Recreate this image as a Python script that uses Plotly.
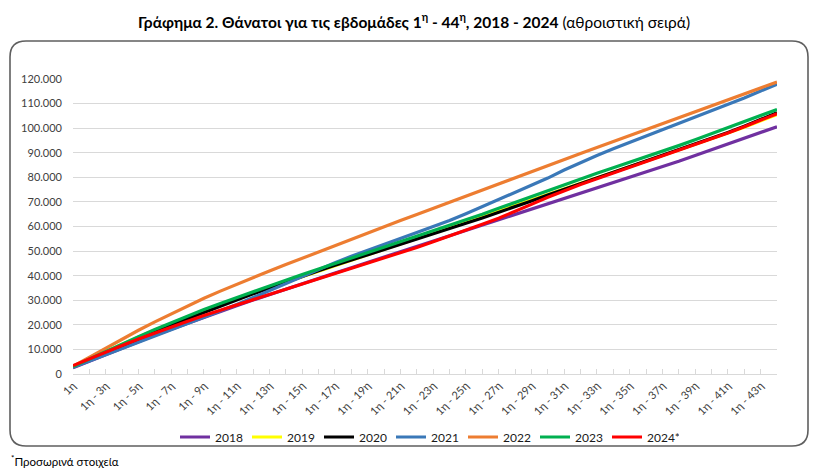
import plotly.graph_objects as go

# ---- data (cumulative deaths, weeks 1..44) ----
weeks = ["1η"] + [f"1η - {k}η" for k in range(2, 45)]

deaths_2018 = [2550, 5250, 7950, 10600, 13200, 15750, 18250, 20700, 23100, 25450,
               27800, 30100, 32350, 34600, 36800, 38950, 41100, 43250, 45400, 47550,
               49700, 51850, 54000, 56150, 58300, 60450, 62600, 64750, 66900, 69050,
               71200, 73350, 75500, 77650, 79800, 81950, 84200, 86550, 88900, 91250,
               93600, 95950, 98300, 100600]
deaths_2019 = [3000, 6100, 9200, 12200, 15100, 17900, 20600, 23200, 25700, 28100,
               30500, 32800, 35100, 37400, 39600, 41800, 44000, 46200, 48400, 50600,
               52800, 55000, 57200, 59400, 61600, 63900, 66200, 68500, 70800, 73000,
               75300, 77550, 79800, 82050, 84300, 86550, 88800, 91050, 93300, 95600,
               98000, 100400, 102900, 105500]
deaths_2020 = [2900, 5800, 8700, 11600, 14400, 17200, 19900, 22500, 25000, 27600,
               30100, 32600, 35000, 37400, 39800, 42000, 44200, 46300, 48400, 50500,
               52600, 54700, 56900, 59100, 61300, 63500, 65700, 68000, 70400, 72800,
               75100, 77400, 79700, 82000, 84300, 86600, 88900, 91200, 93500, 95800,
               98200, 100800, 103500, 106300]
deaths_2021 = [2700, 5300, 7900, 10500, 13000, 15500, 18000, 20500, 23000, 25600,
               28300, 31100, 34000, 36900, 39800, 42600, 45300, 47900, 50400, 52800,
               55200, 57600, 60000, 62400, 65200, 68100, 70900, 73600, 76600, 79700,
               83000, 86100, 88900, 91600, 94200, 96700, 99200, 101700, 104300, 106900,
               109600, 112300, 115100, 117900]
deaths_2022 = [3100, 6800, 10500, 14200, 17800, 21200, 24500, 27700, 30800, 33700,
               36500, 39200, 41900, 44500, 47100, 49700, 52300, 54900, 57400, 59900,
               62400, 64900, 67400, 69900, 72400, 74900, 77400, 79900, 82500, 84900,
               87300, 89700, 92100, 94500, 96900, 99300, 101700, 104100, 106500, 108900,
               111300, 113800, 116300, 118800]
deaths_2023 = [3000, 6100, 9200, 12200, 15200, 18100, 20900, 23600, 26200, 28700,
               31100, 33500, 35900, 38200, 40500, 42700, 44900, 47100, 49300, 51500,
               53700, 55900, 58100, 60400, 62700, 65000, 67400, 69800, 72300, 74800,
               77200, 79500, 81700, 83900, 86100, 88300, 90600, 92900, 95300, 97700,
               100100, 102600, 105100, 107600]
deaths_2024 = [3400, 6200, 8900, 11600, 14200, 16700, 19100, 21500, 23800, 26000,
               28200, 30300, 32400, 34500, 36600, 38700, 40800, 42900, 45000, 47100,
               49300, 51500, 53800, 56100, 58500, 60900, 63400, 66100, 69000, 71900,
               74600, 77100, 79400, 81700, 84000, 86300, 88600, 90900, 93200, 95500,
               98000, 100600, 103200, 105900]

series_names = ["2018", "2019", "2020", "2021", "2022", "2023", "2024*"]
series_values = [deaths_2018, deaths_2019, deaths_2020, deaths_2021,
                 deaths_2022, deaths_2023, deaths_2024]
series_colors = ["#7030A0", "#FFFF00", "#000000", "#3A78B8",
                 "#ED7D31", "#00B050", "#FF0000"]

y_ticks = list(range(0, 120001, 10000))

# ---- layout geometry (window pixels; page body has an 8px margin) ----
OFF = 8
WIN_W, WIN_H = 820, 471
W, H = WIN_W - OFF, WIN_H - OFF
PLOT_X0, PLOT_X1 = 73, 777      # window px
PLOT_Y0, PLOT_Y1 = 79, 374      # window px (top, bottom)
L, R = PLOT_X0 - OFF, WIN_W - PLOT_X1
T, B = PLOT_Y0 - OFF, WIN_H - PLOT_Y1
pw, ph = PLOT_X1 - PLOT_X0, PLOT_Y1 - PLOT_Y0


def px(xp):
    return (xp - PLOT_X0) / pw


def py(yp):
    return (PLOT_Y1 - yp) / ph


fig = go.Figure()
xs = list(range(len(weeks)))
for name, vals, col in zip(series_names, series_values, series_colors):
    fig.add_trace(go.Scatter(
        x=xs, y=vals, name=name, mode="lines",
        line=dict(color=col, width=3.2),
        hoverinfo="x+y+name",
    ))

font_family = "Lato, 'Open Sans', sans-serif"

fig.update_layout(
    width=W, height=H,
    margin=dict(l=L, r=R, t=T, b=B, pad=0),
    paper_bgcolor="white", plot_bgcolor="white",
    separators=",.",
    font=dict(family=font_family, size=11, color="#404040"),
    showlegend=True,
    legend=dict(
        orientation="h", x=px(427), xanchor="center",
        y=py(437), yanchor="middle",
        font=dict(size=12, color="#1a1a1a"),
        itemwidth=30, entrywidth=27, entrywidthmode="pixels",
        tracegroupgap=0, bgcolor="rgba(0,0,0,0)",
    ),
    xaxis=dict(
        range=[0, len(weeks) - 1],
        tickmode="array",
        tickvals=xs[::2],
        ticktext=weeks[::2],
        tickangle=-45,
        showgrid=False,
        showline=True, linecolor="#d9d9d9", linewidth=1,
        ticks="inside", ticklen=5, tickcolor="#d9d9d9",
        minor=dict(ticks="inside", ticklen=5, tickcolor="#d9d9d9",
                   dtick=1, tick0=0, showgrid=False),
        tickfont=dict(size=11, color="#404040"),
        zeroline=False, fixedrange=True,
    ),
    yaxis=dict(
        range=[0, 120000],
        tickmode="array", tickvals=y_ticks,
        tickformat=",d",
        showgrid=True, gridcolor="#d9d9d9", gridwidth=1,
        zeroline=False, showline=False,
        ticks="", ticklabelstandoff=10,
        tickfont=dict(size=11, color="#404040"),
        fixedrange=True,
    ),
)

# rounded outer border
x0, x1 = px(10), px(808)
y0, y1 = py(446), py(41)
rx, ry = 16 / pw, 16 / ph
path = (f"M {x0 + rx},{y1} L {x1 - rx},{y1} Q {x1},{y1} {x1},{y1 - ry} "
        f"L {x1},{y0 + ry} Q {x1},{y0} {x1 - rx},{y0} "
        f"L {x0 + rx},{y0} Q {x0},{y0} {x0},{y0 + ry} "
        f"L {x0},{y1 - ry} Q {x0},{y1} {x0 + rx},{y1} Z")
fig.add_shape(type="path", path=path, xref="paper", yref="paper",
              line=dict(color="#5f5f5f", width=1.6), layer="below")

# title
fig.add_annotation(
    xref="paper", yref="paper", x=px(414), y=py(20),
    xanchor="center", yanchor="middle", showarrow=False,
    text=("<b>Γράφημα 2. Θάνατοι για τις εβδομάδες 1<sup>η</sup> - 44<sup>η</sup>, "
          "2018 - 2024</b> (αθροιστική σειρά)"),
    font=dict(family=font_family, size=15.5, color="#000000"),
)

# footnote
fig.add_annotation(
    xref="paper", yref="paper", x=px(9), y=py(460),
    xanchor="left", yanchor="middle", showarrow=False,
    text="<sup>*</sup>Προσωρινά στοιχεία",
    font=dict(family=font_family, size=11.5, color="#000000"),
)

fig.write_html("out.html")
